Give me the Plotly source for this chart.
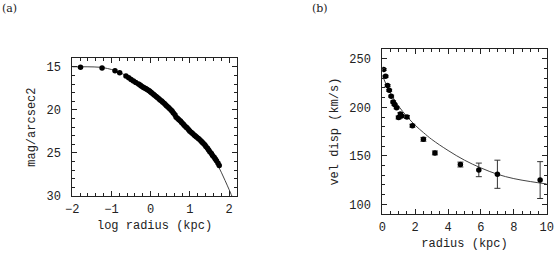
import plotly.graph_objects as go

# ---- panel (a): surface brightness profile ----
a_logr = [-1.79, -1.24, -0.91, -0.79, -0.63, -0.56, -0.50, -0.44, -0.38,
          -0.31, -0.27, -0.24, -0.20, -0.17, -0.13, -0.10, -0.06, -0.03, 0.00,
          0.03, 0.07, 0.10, 0.14, 0.17, 0.21, 0.24, 0.28, 0.31, 0.35,
          0.38, 0.41, 0.45, 0.48, 0.52, 0.55, 0.58, 0.62, 0.65, 0.69,
          0.72, 0.76, 0.79, 0.83, 0.86, 0.90, 0.93, 0.97, 1.00, 1.04,
          1.07, 1.11, 1.14, 1.17, 1.21, 1.24, 1.28, 1.31, 1.34, 1.38,
          1.41, 1.45, 1.48, 1.51, 1.55, 1.58, 1.62, 1.65, 1.68, 1.72, 1.75]
a_mag = [15.04, 15.15, 15.46, 15.69, 16.07, 16.27, 16.46, 16.65, 16.82,
         17.00, 17.12, 17.22, 17.33, 17.43, 17.52, 17.60, 17.72, 17.82, 17.92,
         18.04, 18.18, 18.30, 18.44, 18.55, 18.71, 18.85, 18.98, 19.12, 19.27,
         19.40, 19.55, 19.70, 19.84, 20.00, 20.15, 20.35, 20.55, 20.85, 21.00,
         21.15, 21.30, 21.45, 21.65, 21.80, 21.98, 22.10, 22.30, 22.48, 22.62,
         22.75, 22.90, 23.02, 23.15, 23.30, 23.42, 23.58, 23.72, 23.86, 24.05,
         24.25, 24.45, 24.65, 24.85, 25.05, 25.28, 25.50, 25.70, 25.90, 26.20, 26.45]
a_model_x = [-2.0, -1.6, -1.3, -1.1, -0.9, -0.7, -0.5, -0.3, -0.1, 0.1, 0.3, 0.5,
             0.7, 0.9, 1.1, 1.3, 1.5, 1.7, 1.9, 2.1, 2.2]
a_model_y = [15.0, 15.0, 15.05, 15.2, 15.45, 15.85, 16.4, 17.0, 17.6, 18.3, 19.05,
             19.85, 20.7, 21.6, 22.55, 23.6, 24.8, 26.3, 28.2, 30.3, 31.5]

# ---- panel (b): velocity dispersion profile ----
b_r = [0.08, 0.2, 0.32, 0.42, 0.54, 0.66, 0.74, 0.87, 0.99, 1.1, 1.17, 1.5,
       1.83, 2.5, 3.2, 4.75, 5.87, 7.0, 9.6]
b_v = [239, 232, 222.5, 217.5, 211.5, 205.5, 203, 199.5, 189.5, 193, 191, 190,
       181, 167, 153, 141, 135.5, 131, 125]
b_err = [1, 1, 1, 1, 1, 1, 1, 1, 1.5, 1.5, 1.5, 1.5, 1.5, 2, 2, 2.5, 7, 14.5, 19]
b_model_x = [0.0, 0.25, 0.5, 1.0, 1.5, 2.0, 2.5, 3.0, 4.0, 5.0, 6.0, 7.0, 8.0, 9.0, 10.0]
b_model_y = [233, 223, 214.5, 201, 190.5, 181.5, 174, 167, 155.5, 145.5, 137.5, 131, 126.5, 123.5, 121]

FONT = "Liberation Mono"
INK = "#222222"

fig = go.Figure()
fig.add_trace(go.Scatter(x=a_model_x, y=a_model_y, mode="lines", line=dict(color="#444", width=1, shape="spline"),
                         xaxis="x", yaxis="y", showlegend=False, hoverinfo="skip"))
fig.add_trace(go.Scatter(x=a_logr, y=a_mag, mode="markers", marker=dict(color="black", size=5.5),
                         xaxis="x", yaxis="y", showlegend=False))
fig.add_trace(go.Scatter(x=b_model_x, y=b_model_y, mode="lines", line=dict(color="#444", width=1, shape="spline"),
                         xaxis="x2", yaxis="y2", showlegend=False, hoverinfo="skip"))
fig.add_trace(go.Scatter(x=b_r, y=b_v, mode="markers", marker=dict(color="black", size=5.5),
                         error_y=dict(type="data", array=b_err, color="#333", thickness=1, width=3),
                         xaxis="x2", yaxis="y2", showlegend=False))

def ax(**kw):
    base = dict(showgrid=False, zeroline=False, showline=True, linecolor=INK, linewidth=1,
                mirror="allticks", ticks="inside", ticklen=5, tickcolor=INK, tickwidth=1,
                automargin=False, ticklabeloverflow="allow",
                tickfont=dict(family=FONT, size=12, color=INK),
                title_font=dict(family=FONT, size=12, color=INK))
    base.update(kw)
    return base

fig.update_layout(
    width=556, height=253, margin=dict(l=0, r=0, t=0, b=0),
    paper_bgcolor="white", plot_bgcolor="white",
    xaxis=ax(domain=[0.130, 0.426], anchor="y", range=[-2, 2.2], dtick=1, tick0=0,
             minor=dict(dtick=0.2, ticklen=3, ticks="inside", tickcolor=INK),
             title=dict(text="log radius (kpc)", standoff=4), ticklabelstandoff=2),
    yaxis=ax(domain=[0.225, 0.770], anchor="x", range=[30, 14], dtick=5, tick0=0,
             minor=dict(dtick=1, ticklen=3, ticks="inside", tickcolor=INK),
             title=dict(text="mag/arcsec2", standoff=8), ticklabelstandoff=8),
    xaxis2=ax(domain=[0.6876, 0.9833], anchor="y2", range=[0, 10], dtick=2, tick0=0,
              minor=dict(dtick=0.5, ticklen=3, ticks="inside", tickcolor=INK),
              title=dict(text="radius (kpc)", standoff=4), ticklabelstandoff=2),
    yaxis2=ax(domain=[0.154, 0.806], anchor="x2", range=[90, 260], dtick=50, tick0=0,
              minor=dict(dtick=10, ticklen=3, ticks="inside", tickcolor=INK),
              title=dict(text="vel disp (km/s)", standoff=8), ticklabelstandoff=8),
    annotations=[
        dict(text="(a)", x=0, y=1, xref="paper", yref="paper", xanchor="left", yanchor="top",
             showarrow=False, font=dict(family="DejaVu Serif", size=11, color=INK)),
        dict(text="(b)", x=310 / 556, y=1, xref="paper", yref="paper", xanchor="left", yanchor="top",
             showarrow=False, font=dict(family="DejaVu Serif", size=11, color=INK)),
    ],
)

fig.write_html("out.html", config={"displayModeBar": False},
               post_script="document.body.style.margin='0';document.body.style.overflow='hidden';")
